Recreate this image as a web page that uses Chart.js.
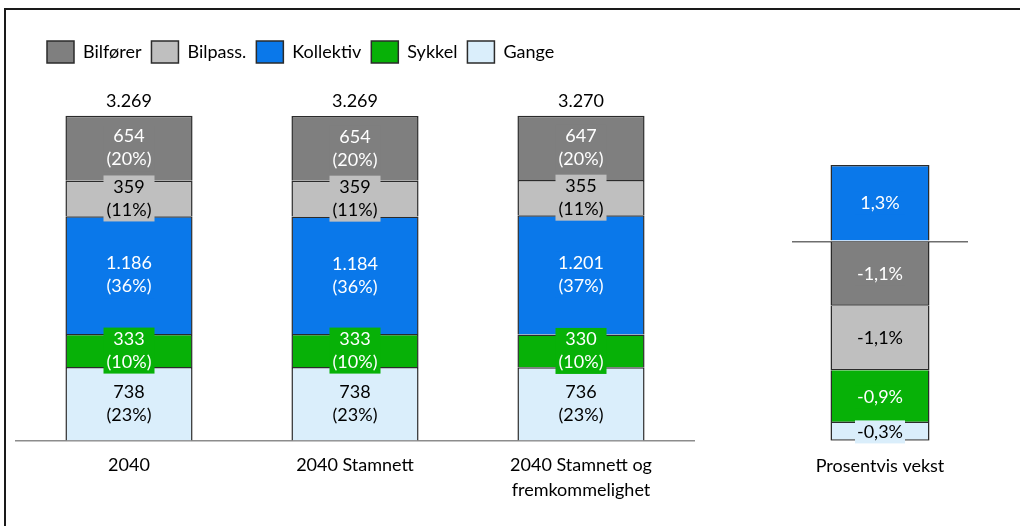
<!DOCTYPE html>
<html>
<head>
<meta charset="utf-8">
<script src="https://cdn.jsdelivr.net/npm/chart.js@4.4.1/dist/chart.umd.min.js"></script>
<style>
    html, body { margin: 0; padding: 0; background: #fff; overflow: hidden; }
    #page { position: relative; width: 1020px; height: 526px; overflow: hidden; }
    #frame { position: absolute; left: 4px; top: 8px; width: 2000px; height: 1000px;
             border-left: 2px solid #1a1a1a; border-top: 2px solid #1a1a1a; }
    #main { position: absolute; left: 0; top: 0; width: 720px; height: 526px; }
    #growth { position: absolute; left: 740px; top: 0; width: 280px; height: 526px; }
</style>
</head>
<body>
<div id="page">
<div id="frame"></div>
<div id="main"><canvas id="chart-main"></canvas></div>
<div id="growth"><canvas id="chart-growth"></canvas></div>
</div>

<script>
var FONT = 'Lato, "Open Sans", sans-serif';

var SCENARIOS = ['2040', '2040 Stamnett', ['2040 Stamnett og', 'fremkommelighet']];
var MODES = ['Bilfører', 'Bilpass.', 'Kollektiv', 'Sykkel', 'Gange'];
var COLORS = ['#7f7f7f', '#bfbfbf', '#0a78ea', '#07b107', '#daeefb'];
var TEXT_COLORS = ['#ffffff', '#000000', '#ffffff', '#ffffff', '#000000'];

// reiser per transportmiddel, ett tall per scenario
var BILFORER = [654, 654, 647];
var BILPASS = [359, 359, 355];
var KOLLEKTIV = [1186, 1184, 1201];
var SYKKEL = [333, 333, 330];
var GANGE = [738, 738, 736];
var TOTALS = [3269, 3269, 3270];

// prosentvis vekst, samme rekkefølge som MODES
var GROWTH_LABEL = ['Prosentvis vekst'];
var GROWTH = [-1.1, -1.1, 1.3, -0.9, -0.3];

function fmtThousands(n) {
    return String(n).replace(/\B(?=(\d{3})+(?!\d))/g, '.');
}

function fmtPercent(v) {
    return v.toFixed(1).replace('.', ',') + '%';
}

//tegner tall midt i hvert segment, med bakgrunn i segmentets farge
function labelPlugin(formatter, boxWidth) {
    var lineHeight = 23;
    return {
        id: 'segmentLabels',
        afterDatasetsDraw: function (chart) {
            var ctx = chart.ctx;
            ctx.save();
            ctx.font = '18px ' + FONT;
            ctx.textAlign = 'center';
            ctx.textBaseline = 'middle';
            chart.data.datasets.forEach(function (ds, d) {
                chart.getDatasetMeta(d).data.forEach(function (bar, i) {
                    var lines = formatter(ds.data[i], i);
                    var cy = (bar.y + bar.base) / 2;
                    var h = lines.length * lineHeight;
                    ctx.fillStyle = ds.backgroundColor;
                    ctx.fillRect(bar.x - boxWidth / 2, cy - h / 2, boxWidth, h);
                    ctx.fillStyle = ds.textColor;
                    lines.forEach(function (t, k) {
                        ctx.fillText(t, bar.x, cy - h / 2 + lineHeight * (k + 0.5));
                    });
                });
            });
            ctx.restore();
        }
    };
}

//summen over hver stolpe
var totalsPlugin = {
    id: 'totals',
    afterDatasetsDraw: function (chart) {
        var ctx = chart.ctx;
        ctx.save();
        ctx.font = '18px ' + FONT;
        ctx.textAlign = 'center';
        ctx.textBaseline = 'middle';
        ctx.fillStyle = '#000';
        TOTALS.forEach(function (total, i) {
            var top = Infinity, x = 0;
            chart.data.datasets.forEach(function (ds, d) {
                var bar = chart.getDatasetMeta(d).data[i];
                top = Math.min(top, bar.y);
                x = bar.x;
            });
            ctx.fillText(fmtThousands(total), x, top - 15);
        });
        ctx.restore();
    }
};

//flytter legenden litt inn fra venstre kant
var legendShift = {
    id: 'legendShift',
    afterLayout: function (chart) {
        chart.legend.left = 37;
    }
};

var modeValues = [BILFORER, BILPASS, KOLLEKTIV, SYKKEL, GANGE];
var mainSets = [];
for (var m = MODES.length - 1; m >= 0; m--) {
    mainSets.push({
        label: MODES[m],
        data: modeValues[m],
        backgroundColor: COLORS[m],
        borderColor: '#2b2b2b',
        borderWidth: 1.5,
        textColor: TEXT_COLORS[m]
    });
}

var growthSets = MODES.map(function (name, m) {
    return {
        label: name,
        data: [GROWTH[m]],
        backgroundColor: COLORS[m],
        borderColor: '#2b2b2b',
        borderWidth: 1.5,
        textColor: TEXT_COLORS[m]
    };
});

var tickFont = { family: FONT, size: 18, lineHeight: 1.35 };

new Chart(document.getElementById('chart-main'), {
    type: 'bar',
    data: { labels: SCENARIOS, datasets: mainSets },
    options: {
        responsive: true,
        maintainAspectRatio: false,
        animation: false,
        barPercentage: 0.5625,
        categoryPercentage: 1,
        layout: { padding: { left: 16, right: 26, top: 31, bottom: 11 } },
        plugins: {
            legend: {
                position: 'top',
                align: 'start',
                reverse: true,
                labels: {
                    boxWidth: 27,
                    boxHeight: 22,
                    padding: 10,
                    color: '#000',
                    font: { family: FONT, size: 18 }
                }
            },
            tooltip: { enabled: false }
        },
        scales: {
            x: {
                stacked: true,
                grid: { display: false, drawTicks: false },
                border: { color: '#8c8c8c', width: 1.5 },
                ticks: { color: '#000', padding: 13, font: tickFont }
            },
            y: { stacked: true, display: false, min: 0, max: 3700 }
        }
    },
    plugins: [legendShift, totalsPlugin, labelPlugin(function (v, i) {
        return [fmtThousands(v), '(' + Math.round(v / TOTALS[i] * 100) + '%)'];
    }, 51)]
});

new Chart(document.getElementById('chart-growth'), {
    type: 'bar',
    data: { labels: GROWTH_LABEL, datasets: growthSets },
    options: {
        responsive: true,
        maintainAspectRatio: false,
        animation: false,
        barPercentage: 0.5625,
        categoryPercentage: 1,
        layout: { padding: { left: 52, right: 52, top: 165, bottom: 35 } },
        plugins: {
            legend: { display: false },
            tooltip: { enabled: false }
        },
        scales: {
            x: {
                stacked: true,
                grid: { display: false, drawTicks: false },
                border: { display: false },
                ticks: { color: '#000', padding: 13, font: tickFont }
            },
            y: {
                stacked: true,
                min: -3.4,
                max: 1.3,
                border: { display: false },
                ticks: { display: false },
                grid: {
                    drawTicks: false,
                    lineWidth: 1.5,
                    color: function (c) {
                        return Math.abs(c.tick.value) < 1e-9 ? '#6e6e6e' : 'rgba(0,0,0,0)';
                    }
                }
            }
        }
    },
    plugins: [labelPlugin(function (v) {
        return [fmtPercent(v)];
    }, 50)]
});
</script>
</body>
</html>
